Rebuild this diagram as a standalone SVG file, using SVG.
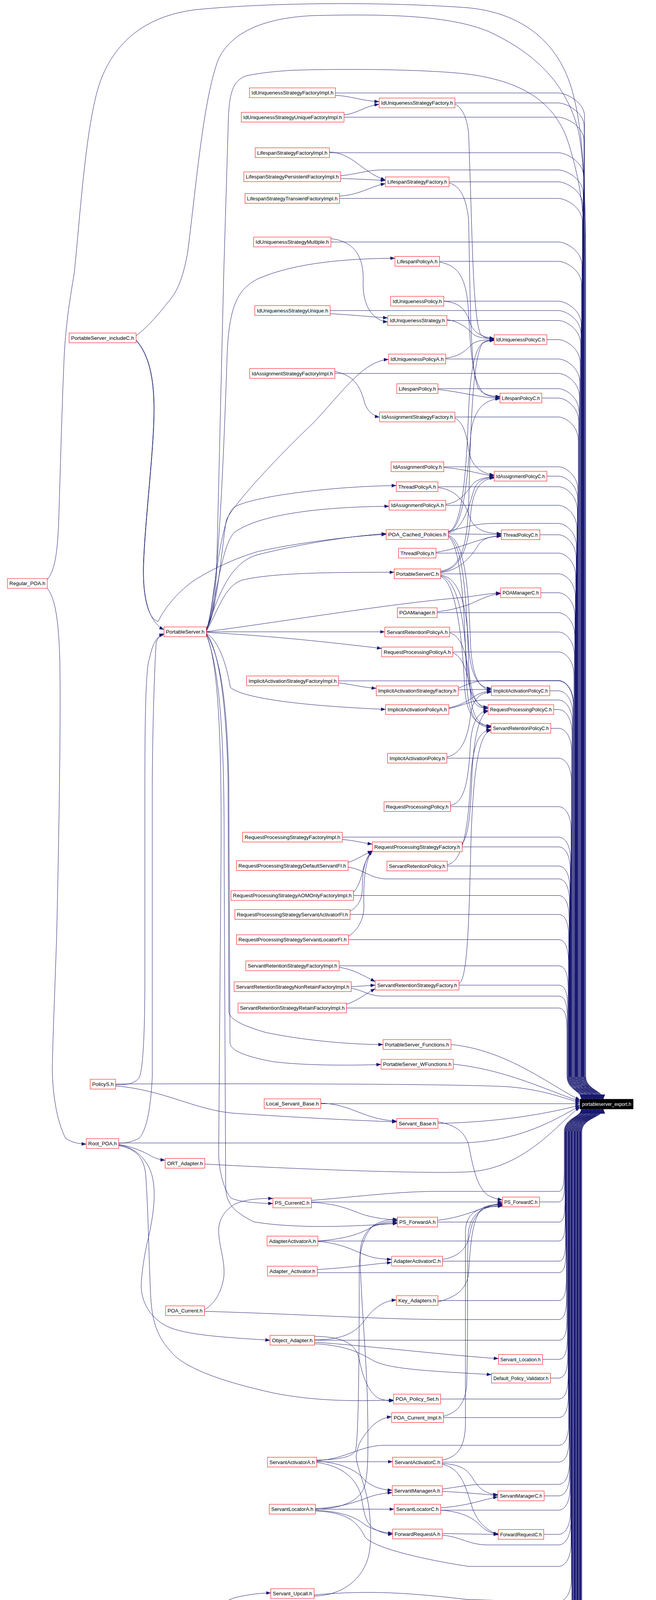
<svg xmlns="http://www.w3.org/2000/svg" width="1680" height="5554" viewBox="0 0 1680 5554">
<defs>
<marker id="ah" viewBox="0 0 12 9" refX="12" refY="4.5" markerWidth="12" markerHeight="9" markerUnits="userSpaceOnUse" orient="auto"><path d="M0,0L12,4.5L0,9z" fill="#191970"/></marker>
<style>
.node rect{fill:#fff;stroke:#ff0000;stroke-width:1}
.node.k rect{stroke:#000}
.node.t rect{fill:#000;stroke:#000}
.node text{font-family:"Liberation Sans",Arial,sans-serif;font-size:12.5px;fill:#000}
.node.t text{fill:#fff}
#edges path{fill:none;stroke:#191970;stroke-width:1;marker-end:url(#ah)}
</style>
</defs>
<rect width="1680" height="5554" fill="#fff"/>
<g id="edges">
<path d="M121,1484 C140,1460 148,1420 151,1313 C156,1150 160,1000 165,900 C170,820 180,760 190,700 C205,560 220,300 260,200 C300,100 380,40 500,25 C700,5 1000,5 1200,20 C1350,35 1440,120 1470,250 C1495,350 1500,500 1500,700 L1500,2755 C1500,2790 1545,2792 1545,2814"/>
<path d="M348.5,860 C380,835 410,800 430,774 C460,740 470,700 480,650 C500,500 520,250 560,150 C600,70 700,45 800,40 C1000,35 1150,40 1250,80 C1380,140 1450,220 1480,330 C1495,400 1499,500 1499,700 L1499,2755 C1499,2790 1544,2792 1544,2814"/>
<path d="M528.5,1606 C545,1590 552,1529 555,1450 L573,700 L585,300 C588,230 600,205 631,194 C680,184 720,182 746,180 C900,175 1100,178 1200,190 C1350,210 1430,270 1460,380 C1490,480 1498,560 1498,700 L1498,2755 C1498,2790 1543,2792 1543,2814"/>
<path d="M859,238 L1430,238 C1448,238 1497,260 1497,298 L1497,2755 C1497,2790 1542,2792 1542,2814"/>
<path d="M1165,263.5 L1430,263.5 C1448,263.5 1496,285.5 1496,323.5 L1496,2755 C1496,2790 1541,2792 1541,2814"/>
<path d="M881,300 L1430,300 C1448,300 1495.5,322 1495.5,360 L1495.5,2755 C1495.5,2790 1540,2792 1540,2814"/>
<path d="M843.5,391 L1430,391 C1448,391 1494.5,413 1494.5,451 L1494.5,2755 C1494.5,2790 1538,2792 1538,2814"/>
<path d="M872.5,450 C920,445 940,435 980,435 L1430,435 C1448,435 1493.5,457 1493.5,495 L1493.5,2755 C1493.5,2790 1537,2792 1537,2814"/>
<path d="M1150,465.5 L1430,465.5 C1448,465.5 1492.5,487.5 1492.5,525.5 L1492.5,2755 C1492.5,2790 1536,2792 1536,2814"/>
<path d="M869.5,508 L1430,508 C1448,508 1491.5,530 1491.5,568 L1491.5,2755 C1491.5,2790 1535,2792 1535,2814"/>
<path d="M847.5,619.5 L1430,619.5 C1448,619.5 1490.5,641.5 1490.5,679.5 L1490.5,2755 C1490.5,2790 1534,2792 1534,2814"/>
<path d="M1125.5,669 L1430,669 C1448,669 1489.5,691 1489.5,729 L1489.5,2755 C1489.5,2790 1533,2792 1533,2814"/>
<path d="M1136.5,771 L1430,771 C1448,771 1488.5,793 1488.5,831 L1488.5,2755 C1488.5,2790 1532,2792 1532,2814"/>
<path d="M845.5,795 L1430,795 C1448,795 1488,817 1488,855 L1488,2755 C1488,2790 1531,2792 1531,2814"/>
<path d="M1144.5,820.5 L1430,820.5 C1448,820.5 1487,842.5 1487,880.5 L1487,2755 C1487,2790 1530,2792 1530,2814"/>
<path d="M1400.5,869.5 L1430,869.5 C1448,869.5 1486,891.5 1486,929.5 L1486,2755 C1486,2790 1529,2792 1529,2814"/>
<path d="M1141.5,919 L1430,919 C1448,919 1485,941 1485,979 L1485,2755 C1485,2790 1527,2792 1527,2814"/>
<path d="M857.5,956 L1430,956 C1448,956 1484,978 1484,1016 L1484,2755 C1484,2790 1526,2792 1526,2814"/>
<path d="M1121.5,995 L1430,995 C1448,995 1483,1017 1483,1055 L1483,2755 C1483,2790 1525,2792 1525,2814"/>
<path d="M1387.5,1019 L1430,1019 C1448,1019 1482,1041 1482,1079 L1482,2755 C1482,2790 1524,2792 1524,2814"/>
<path d="M1165,1067.5 L1430,1067.5 C1448,1067.5 1481,1089.5 1481,1127.5 L1481,2755 C1481,2790 1523,2792 1523,2814"/>
<path d="M1136.5,1195 L1430,1195 C1448,1195 1480,1217 1480,1255 L1480,2755 C1480,2790 1522,2792 1522,2814"/>
<path d="M1400.5,1219 L1430,1219 C1448,1219 1479.5,1241 1479.5,1279 L1479.5,2755 C1479.5,2790 1521,2792 1521,2814"/>
<path d="M1121.5,1246 L1430,1246 C1448,1246 1478.5,1268 1478.5,1306 L1478.5,2755 C1478.5,2790 1520,2792 1520,2814"/>
<path d="M1141.5,1293.5 L1430,1293.5 C1448,1293.5 1477.5,1315.5 1477.5,1353.5 L1477.5,2755 C1477.5,2790 1519,2792 1519,2814"/>
<path d="M1148,1360 C1190,1350 1220,1340 1260,1340 L1430,1340 C1448,1340 1476.5,1362 1476.5,1400 L1476.5,2755 C1476.5,2790 1518,2792 1518,2814"/>
<path d="M1382.5,1369 L1430,1369 C1448,1369 1475.5,1391 1475.5,1429 L1475.5,2755 C1475.5,2790 1516,2792 1516,2814"/>
<path d="M1116.5,1416 L1430,1416 C1448,1416 1474.5,1438 1474.5,1476 L1474.5,2755 C1474.5,2790 1515,2792 1515,2814"/>
<path d="M1128.5,1469 L1430,1469 C1448,1469 1473.5,1491 1473.5,1529 L1473.5,2755 C1473.5,2790 1514,2792 1514,2814"/>
<path d="M1385,1517.5 L1430,1517.5 C1448,1517.5 1472.5,1539.5 1472.5,1577.5 L1472.5,2755 C1472.5,2790 1513,2792 1513,2814"/>
<path d="M1119.5,1568.5 L1430,1568.5 C1448,1568.5 1472,1590.5 1472,1628.5 L1472,2755 C1472,2790 1512,2792 1512,2814"/>
<path d="M1151.5,1618 L1430,1618 C1448,1618 1471,1640 1471,1678 L1471,2755 C1471,2790 1511,2792 1511,2814"/>
<path d="M1159.5,1669 L1430,1669 C1448,1669 1470,1691 1470,1729 L1470,2755 C1470,2790 1510,2792 1510,2814"/>
<path d="M1173.5,1762 C1200,1750 1220,1742 1250,1742 L1430,1742 C1448,1742 1469,1764 1469,1802 L1469,2755 C1469,2790 1509,2792 1509,2814"/>
<path d="M867,1743 L1430,1743 C1448,1743 1468,1765 1468,1803 L1468,2755 C1468,2790 1508,2792 1508,2814"/>
<path d="M1408,1768.5 L1430,1768.5 C1448,1768.5 1467,1790.5 1467,1828.5 L1467,2755 C1467,2790 1506,2792 1506,2814"/>
<path d="M1149.5,1814 C1190,1805 1210,1792 1240,1792 L1430,1792 C1448,1792 1466,1814 1466,1852 L1466,2755 C1466,2790 1505,2792 1505,2814"/>
<path d="M1418,1816.5 L1430,1816.5 C1448,1816.5 1465,1838.5 1465,1876.5 L1465,2755 C1465,2790 1504,2792 1504,2814"/>
<path d="M1410.5,1864.5 L1430,1864.5 C1448,1864.5 1464,1886.5 1464,1924.5 L1464,2755 C1464,2790 1503,2792 1503,2814"/>
<path d="M1144.5,1941 L1430,1941 C1448,1941 1463.5,1963 1463.5,2001 L1463.5,2755 C1463.5,2790 1502,2792 1502,2814"/>
<path d="M1153.5,2065 L1430,2065 C1448,2065 1462.5,2087 1462.5,2125 L1462.5,2755 C1462.5,2790 1501,2792 1501,2814"/>
<path d="M876.5,2143 L1430,2143 C1448,2143 1461.5,2165 1461.5,2203 L1461.5,2755 C1461.5,2790 1500,2792 1500,2814"/>
<path d="M1183.5,2168 L1430,2168 C1448,2168 1460.5,2190 1460.5,2228 L1460.5,2755 C1460.5,2790 1499,2792 1499,2814"/>
<path d="M1145.5,2217 L1430,2217 C1448,2217 1459.5,2239 1459.5,2277 L1459.5,2755 C1459.5,2790 1498,2792 1498,2814"/>
<path d="M891.5,2220 C930,2225 950,2250 990,2250 L1430,2250 C1448,2250 1458.5,2272 1458.5,2310 L1458.5,2755 C1458.5,2790 1497,2792 1497,2814"/>
<path d="M905.5,2292.5 L1430,2292.5 C1448,2292.5 1457.5,2314.5 1457.5,2352.5 L1457.5,2755 C1457.5,2790 1495,2792 1495,2814"/>
<path d="M896.5,2341 L1430,2341 C1448,2341 1456.5,2363 1456.5,2401 L1456.5,2755 C1456.5,2790 1494,2792 1494,2814"/>
<path d="M892.5,2405.5 L1430,2405.5 C1448,2405.5 1456,2427.5 1456,2465.5 L1456,2755 C1456,2790 1493,2792 1493,2814"/>
<path d="M868.5,2472.5 L1430,2472.5 C1448,2472.5 1455,2494.5 1455,2532.5 L1455,2755 C1455,2790 1492,2792 1492,2814"/>
<path d="M1175.5,2522 L1430,2522 C1448,2522 1454,2544 1454,2582 L1454,2755 C1454,2790 1491,2792 1491,2814"/>
<path d="M899.5,2530 C930,2535 945,2550 980,2550 L1430,2550 C1448,2550 1453,2572 1453,2610 L1453,2755 C1453,2790 1490,2792 1490,2814"/>
<path d="M887.5,2580.5 L1430,2580.5 C1448,2580.5 1452,2602.5 1452,2640.5 L1452,2755 C1452,2790 1489,2792 1489,2814"/>
<path d="M1155,2674 C1300,2688 1410,2780 1485.5,2816"/>
<path d="M1161,2724.5 C1300,2738 1420,2800 1485.5,2819"/>
<path d="M296,2775 C600,2774 1150,2774 1300,2782 C1400,2790 1450,2815 1485.5,2822"/>
<path d="M821.5,2825.5 L1485.5,2825.5"/>
<path d="M1121.5,2876 C1300,2872 1420,2846 1485.5,2829"/>
<path d="M304,2926 L1180,2926 C1350,2922 1440,2852 1485.5,2832"/>
<path d="M524.5,2980 C800,2995 1100,3005 1200,3000 C1350,2992 1440,2862 1485.5,2835"/>
<path d="M1433.5,5536 L1436,5536 C1454,5536 1490,5514 1490,5476 L1490,2897 C1490,2862 1545,2860 1545,2839"/>
<path d="M1401.5,5488.5 L1430,5488.5 C1448,5488.5 1489,5466.5 1489,5428.5 L1489,2897 C1489,2862 1544,2860 1544,2839"/>
<path d="M1416.5,5440.5 L1430,5440.5 C1448,5440.5 1488,5418.5 1488,5380.5 L1488,2897 C1488,2862 1543,2860 1543,2839"/>
<path d="M1416.5,5392.5 L1430,5392.5 C1448,5392.5 1487.5,5370.5 1487.5,5332.5 L1487.5,2897 C1487.5,2862 1542,2860 1542,2839"/>
<path d="M1407,5344.5 L1430,5344.5 C1448,5344.5 1486.5,5322.5 1486.5,5284.5 L1486.5,2897 C1486.5,2862 1541,2860 1541,2839"/>
<path d="M1420,5296.5 L1430,5296.5 C1448,5296.5 1485.5,5274.5 1485.5,5236.5 L1485.5,2897 C1485.5,2862 1540,2860 1540,2839"/>
<path d="M1387,5248.5 L1430,5248.5 C1448,5248.5 1484.5,5226.5 1484.5,5188.5 L1484.5,2897 C1484.5,2862 1538,2860 1538,2839"/>
<path d="M1392.5,5200.5 L1430,5200.5 C1448,5200.5 1484,5178.5 1484,5140.5 L1484,2897 C1484,2862 1537,2860 1537,2839"/>
<path d="M1403.5,5152.5 L1430,5152.5 C1448,5152.5 1483,5130.5 1483,5092.5 L1483,2897 C1483,2862 1536,2860 1536,2839"/>
<path d="M1404.5,5104.5 L1430,5104.5 C1448,5104.5 1482,5082.5 1482,5044.5 L1482,2897 C1482,2862 1535,2860 1535,2839"/>
<path d="M1172.5,5053 L1430,5053 C1448,5053 1481,5031 1481,4993 L1481,2897 C1481,2862 1534,2860 1534,2839"/>
<path d="M1176,5004.5 L1430,5004.5 C1448,5004.5 1480.5,4982.5 1480.5,4944.5 L1480.5,2897 C1480.5,2862 1533,2860 1533,2839"/>
<path d="M1388.5,4954.5 L1430,4954.5 C1448,4954.5 1479.5,4932.5 1479.5,4894.5 L1479.5,2897 C1479.5,2862 1532,2860 1532,2839"/>
<path d="M1177,4938 C1210,4930 1230,4905 1260,4905 L1430,4905 C1448,4905 1478.5,4883 1478.5,4845 L1478.5,2897 C1478.5,2862 1531,2860 1531,2839"/>
<path d="M1176.5,4868.5 L1430,4868.5 C1448,4868.5 1477.5,4846.5 1477.5,4808.5 L1477.5,2897 C1477.5,2862 1530,2860 1530,2839"/>
<path d="M1410.5,4805.5 L1430,4805.5 C1448,4805.5 1477,4783.5 1477,4745.5 L1477,2897 C1477,2862 1529,2860 1529,2839"/>
<path d="M1376,4757.5 L1430,4757.5 C1448,4757.5 1476,4735.5 1476,4697.5 L1476,2897 C1476,2862 1527,2860 1527,2839"/>
<path d="M1399.5,4709.5 L1430,4709.5 C1448,4709.5 1475,4687.5 1475,4649.5 L1475,2897 C1475,2862 1526,2860 1526,2839"/>
<path d="M1397,4661.5 L1430,4661.5 C1448,4661.5 1474,4639.5 1474,4601.5 L1474,2897 C1474,2862 1525,2860 1525,2839"/>
<path d="M1429,4613.5 L1431,4613.5 C1449,4613.5 1473.5,4591.5 1473.5,4553.5 L1473.5,2897 C1473.5,2862 1524,2860 1524,2839"/>
<path d="M1430,4565.5 L1432,4565.5 C1450,4565.5 1472.5,4543.5 1472.5,4505.5 L1472.5,2897 C1472.5,2862 1523,2860 1523,2839"/>
<path d="M1415.5,4517.5 L1430,4517.5 C1448,4517.5 1471.5,4495.5 1471.5,4457.5 L1471.5,2897 C1471.5,2862 1522,2860 1522,2839"/>
<path d="M1422.5,4469.5 L1430,4469.5 C1448,4469.5 1470.5,4447.5 1470.5,4409.5 L1470.5,2897 C1470.5,2862 1521,2860 1521,2839"/>
<path d="M1440,4421.5 L1442,4421.5 C1458,4421.5 1470,4399.5 1470,4361.5 L1470,2897 C1470,2862 1520,2860 1520,2839"/>
<path d="M1407,4373.5 L1430,4373.5 C1448,4373.5 1469,4351.5 1469,4313.5 L1469,2897 C1469,2862 1519,2860 1519,2839"/>
<path d="M1434,4325.5 L1436,4325.5 C1452,4325.5 1468,4303.5 1468,4265.5 L1468,2897 C1468,2862 1518,2860 1518,2839"/>
<path d="M1396,4277.5 L1430,4277.5 C1448,4277.5 1467,4255.5 1467,4217.5 L1467,2897 C1467,2862 1516,2860 1516,2839"/>
<path d="M1389.5,4229.5 L1430,4229.5 C1448,4229.5 1466,4207.5 1466,4169.5 L1466,2897 C1466,2862 1515,2860 1515,2839"/>
<path d="M356.5,4158 C600,4175 900,4180 1100,4180 L1430,4180 C1448,4180 1465.5,4158 1465.5,4120 L1465.5,2897 C1465.5,2862 1514,2860 1514,2839"/>
<path d="M543.5,4129 C800,4135 1100,4150 1200,4148 L1430,4148 C1448,4148 1464.5,4126 1464.5,4088 L1464.5,2897 C1464.5,2862 1513,2860 1513,2839"/>
<path d="M804.5,4083 C950,4070 1050,4078 1200,4095 L1430,4100 C1448,4100 1463.5,4078 1463.5,4040 L1463.5,2897 C1463.5,2862 1512,2860 1512,2839"/>
<path d="M807.5,3868 C890,3872 915,3895 935,3935 C960,3965 1100,3995 1200,4010 L1430,4010 C1448,4010 1462.5,3988 1462.5,3950 L1462.5,2897 C1462.5,2862 1511,2860 1511,2839"/>
<path d="M1132.5,3930 C1180,3934 1200,3955 1250,3955 L1430,3955 C1448,3955 1462,3933 1462,3895 L1462,2897 C1462,2862 1510,2860 1510,2839"/>
<path d="M1392.5,3928 L1430,3928 C1448,3928 1461,3906 1461,3868 L1461,2897 C1461,2862 1509,2860 1509,2839"/>
<path d="M1128.5,3866 L1430,3866 C1448,3866 1460,3844 1460,3806 L1460,2897 C1460,2862 1508,2860 1508,2839"/>
<path d="M1393.5,3829.5 L1430,3829.5 C1448,3829.5 1459,3807.5 1459,3769.5 L1459,2897 C1459,2862 1506,2860 1506,2839"/>
<path d="M1132.5,3812 C1180,3806 1200,3800 1240,3800 L1430,3800 C1448,3800 1458.5,3778 1458.5,3740 L1458.5,2897 C1458.5,2862 1505,2860 1505,2839"/>
<path d="M1132.5,3743 L1430,3743 C1448,3743 1457.5,3721 1457.5,3683 L1457.5,2897 C1457.5,2862 1504,2860 1504,2839"/>
<path d="M811,3739 C880,3737 920,3702 980,3700 L1430,3700 C1448,3700 1456.5,3678 1456.5,3640 L1456.5,2897 C1456.5,2862 1503,2860 1503,2839"/>
<path d="M1135.5,3629 L1430,3629 C1448,3629 1455.5,3607 1455.5,3569 L1455.5,2897 C1455.5,2862 1502,2860 1502,2839"/>
<path d="M1128.5,3581.5 L1430,3581.5 C1448,3581.5 1455,3559.5 1455,3521.5 L1455,2897 C1455,2862 1501,2860 1501,2839"/>
<path d="M1409.5,3528 L1430,3528 C1448,3528 1454,3506 1454,3468 L1454,2897 C1454,2862 1500,2860 1500,2839"/>
<path d="M1389.5,3480 L1430,3480 C1448,3480 1453,3458 1453,3420 L1453,2897 C1453,2862 1499,2860 1499,2839"/>
<path d="M805.5,3431 L1430,3431 C1448,3431 1452,3409 1452,3371 L1452,2897 C1452,2862 1498,2860 1498,2839"/>
<path d="M523.5,3357 C800,3365 1000,3380 1200,3378 L1430,3378 C1446,3378 1451,3356 1451,3318 L1451,2897 C1451,2862 1497,2860 1497,2839"/>
<path d="M1121.5,3329.5 L1430,3329.5 C1446,3329.5 1450.5,3307.5 1450.5,3269.5 L1450.5,2897 C1450.5,2862 1495,2860 1495,2839"/>
<path d="M812.5,3258 L1430,3258 C1446,3258 1449.5,3236 1449.5,3198 L1449.5,2897 C1449.5,2862 1494,2860 1494,2839"/>
<path d="M1133.5,3228.5 L1430,3228.5 C1446,3228.5 1448.5,3206.5 1448.5,3168.5 L1448.5,2897 C1448.5,2862 1493,2860 1493,2839"/>
<path d="M814,3177 L1430,3177 C1445,3177 1447.5,3155 1447.5,3117 L1447.5,2897 C1447.5,2862 1492,2860 1492,2839"/>
<path d="M1120.5,3128.5 L1430,3128.5 C1445,3128.5 1447,3106.5 1447,3068.5 L1447,2897 C1447,2862 1491,2860 1491,2839"/>
<path d="M1381.5,3077 L1430,3077 C1444,3077 1446,3055 1446,3017 L1446,2897 C1446,2862 1490,2860 1490,2839"/>
<path d="M797.5,3073 C900,3065 1000,3052 1100,3050 L1430,3050 C1443,3050 1445,3028 1445,2990 L1445,2897 C1445,2862 1489,2860 1489,2839"/>
<path d="M859,244 C900,246 930,259 971,260"/>
<path d="M881,294 C915,291 935,271 971,267"/>
<path d="M843.5,389 C905,392 925,440 987,461"/>
<path d="M872.5,457 C910,458 950,460 987,462"/>
<path d="M869.5,502 C925,498 945,478 987,470"/>
<path d="M847.5,611 C910,618 932,660 930,720 C928,790 960,822 993,824"/>
<path d="M845.5,803 C900,806 950,811 993,814"/>
<path d="M857.5,951 C915,962 925,1000 935,1035 C945,1058 960,1066 972,1068"/>
<path d="M867,1748 C900,1752 930,1760 963.5,1762"/>
<path d="M876.5,2149 C910,2152 930,2158 953.5,2161"/>
<path d="M891.5,2208 C915,2200 935,2186 953.5,2178"/>
<path d="M905.5,2284 C922,2265 926,2240 930,2225 C935,2205 945,2188 953.5,2178"/>
<path d="M896.5,2333 C920,2318 928,2300 928,2270 C928,2230 935,2195 953.5,2178"/>
<path d="M892.5,2397 C920,2378 932,2350 932,2320 C930,2260 935,2200 953.5,2178"/>
<path d="M868.5,2476 C905,2482 930,2497 961,2513"/>
<path d="M899.5,2526 L961,2522"/>
<path d="M887.5,2571 C915,2562 935,2545 961,2531"/>
<path d="M528.5,1610 C560,1560 575,1100 582,900 C588,780 610,740 660,714 C760,670 900,662 1011.5,661"/>
<path d="M528.5,1612 C555,1580 570,1380 580,1330 C600,1290 700,1180 805,1080 C880,1000 930,925 995,920"/>
<path d="M528.5,1613 C548,1560 560,1330 600,1298 C650,1270 850,1245 1015,1243"/>
<path d="M528.5,1614 C555,1540 565,1400 600,1363 C660,1320 800,1298 996.5,1296"/>
<path d="M528.5,1615 C560,1520 590,1440 660,1420 C780,1390 900,1372 989,1366"/>
<path d="M528.5,1616 C560,1560 575,1500 620,1485 C700,1466 850,1465 1009.5,1465"/>
<path d="M528.5,1617 C700,1595 1000,1545 1180,1530 C1220,1526 1250,1519 1282,1518"/>
<path d="M528.5,1617.5 L985.5,1617.5"/>
<path d="M528.5,1619 C700,1628 850,1645 977.5,1660"/>
<path d="M528.5,1621 C560,1640 580,1700 590,1760 C620,1785 750,1806 987.5,1816"/>
<path d="M528.5,1622 C560,1660 580,1800 584,2000 L586,2590 C588,2610 620,2625 680,2643 C760,2660 880,2674 981,2674"/>
<path d="M528.5,1623 C565,1680 582,1800 586,2000 L589,2670 C591,2690 630,2705 700,2718 C780,2728 900,2728 976,2725"/>
<path d="M528.5,1624 C560,1700 568,1900 566,2200 L560,2950 C560,3000 575,3050 592,3067 C610,3076 650,3080 699,3081"/>
<path d="M528.5,1625 C565,1720 575,1900 574,2200 L578,3040 C580,3080 595,3100 650,3128 C760,3146 900,3140 1017.5,3132"/>
<path d="M348.5,870 C375,900 395,950 395,1048 C395,1150 372,1330 368,1446 C365,1540 385,1595 420,1612"/>
<path d="M348.5,872 C375,902 394,952 394,1048 C394,1150 371,1330 367,1446 C365,1530 380,1585 405,1591 C420,1560 450,1520 494,1488 C540,1458 600,1430 660,1412 C760,1390 900,1372 989,1368"/>
<path d="M121,1506 C140,1530 150,1580 153,1687 C156,1800 152,2100 145,2400 C138,2600 134,2700 134,2741 C135,2800 145,2870 168,2914 C185,2925 200,2928 221,2929"/>
<path d="M296,2777 C330,2778 345,2772 356,2760 C366,2740 371,2650 371,2500 L371,2000 C371,1800 375,1700 383,1686 C390,1650 400,1630 420,1622"/>
<path d="M304,2927 C330,2926 345,2920 356,2914 C370,2900 385,2860 390,2756 L390,2000 C391,1850 396,1700 400,1645 C405,1630 412,1626 420,1625"/>
<path d="M304,2930 C340,2935 370,2950 383,2957 C395,2965 410,2969 423,2970"/>
<path d="M304,2931 C340,2936 370,2960 385,2996 C398,3030 400,3080 380,3169 C365,3230 360,3290 362,3300 C365,3340 390,3380 436,3399 C490,3420 600,3425 691.5,3431"/>
<path d="M304,2933 C345,2940 368,2960 373,3006 C380,3100 382,3250 386,3320 C390,3390 405,3430 452,3475 C490,3505 560,3535 700,3566 C800,3586 900,3588 1008,3584"/>
<path d="M296,2780 C420,2790 500,2842 600,2850 C750,2860 900,2868 1016,2872"/>
<path d="M821.5,2824 C900,2826 930,2866 1016,2870"/>
<path d="M523.5,3353 C545,3340 565,3317 573,3271 C578,3230 560,3190 560,3149 C561,3120 575,3100 600,3083 C630,3070 660,3068 699,3068"/>
<path d="M797.5,3078 C880,3082 910,3105 940,3112 C970,3120 1000,3122 1017.5,3124"/>
<path d="M797.5,3077 L1286.5,3077"/>
<path d="M814,3177 C880,3172 920,3160 945,3145 C970,3130 995,3126 1017.5,3126"/>
<path d="M814,3178 C890,3184 920,3212 960,3220 C980,3223 995,3224 1003,3224"/>
<path d="M812.5,3250 C900,3245 950,3236 1003,3232"/>
<path d="M805.5,3430 C880,3430 910,3410 930,3385 C955,3350 980,3330 1015,3328"/>
<path d="M805.5,3421 C880,3422 912,3440 920,3480 C930,3530 945,3565 970,3580 C985,3585 995,3586 1008,3586"/>
<path d="M805.5,3436 C950,3446 1150,3470 1276.5,3478"/>
<path d="M805.5,3440 C900,3445 930,3470 960,3485 C1000,3505 1100,3510 1258.5,3519"/>
<path d="M811,3742 L1005.5,3742"/>
<path d="M811,3740 C880,3746 915,3765 935,3790 C955,3808 980,3814 1004.5,3815"/>
<path d="M811,3738 C880,3736 900,3728 910,3715 C918,3690 920,3500 920,3242 C922,3200 930,3165 955,3138 C975,3125 1000,3121 1017.5,3121"/>
<path d="M807.5,3864 C880,3862 920,3840 932,3809 C942,3780 944,3740 941,3586 C938,3470 924,3320 922,3213 C922,3180 935,3150 955,3140 C975,3132 1000,3130 1017.5,3130"/>
<path d="M807.5,3863.5 L1009.5,3863.5"/>
<path d="M807.5,3862 C880,3858 910,3845 936,3836 C960,3826 985,3822 1004.5,3821"/>
<path d="M811,3744 C880,3752 915,3790 925,3830 C932,3870 935,3900 960,3915 C980,3925 995,3928 1005.5,3928"/>
<path d="M807.5,3866 C880,3870 910,3885 930,3900 C950,3915 980,3924 1005.5,3925"/>
<path d="M804.5,4086 C880,4084 930,4040 944,3983 C952,3950 950,3900 944,3854 C935,3800 915,3760 912,3730 C915,3700 925,3680 956,3648 C975,3632 990,3628 1003,3627"/>
<path d="M543.5,4119 C570,4105 590,4090 620,4086 C650,4080 675,4078 693.5,4078"/>
<path d="M356.5,4145 L405,4138"/>
<path d="M1128.5,3860 C1200,3855 1240,3838 1275,3832"/>
<path d="M1132.5,3818 C1200,3821 1240,3826 1275,3828"/>
<path d="M1132.5,3746 C1180,3750 1195,3760 1211,3785 C1225,3810 1245,3826 1275,3826"/>
<path d="M1132.5,3926 L1276,3928"/>
<path d="M1128.5,3866 C1190,3870 1215,3890 1230,3905 C1245,3920 1260,3926 1276,3926"/>
<path d="M1132.5,3748 C1180,3760 1190,3800 1205,3845 C1215,3880 1230,3910 1276,3930"/>
<path d="M1120.5,3124 C1200,3115 1240,3085 1286.5,3080"/>
<path d="M1121.5,2872 C1170,2880 1190,2900 1200,2930 C1210,2980 1220,3040 1250,3060 C1265,3068 1275,3070 1286.5,3072"/>
<path d="M1133.5,3224 C1190,3215 1200,3180 1205,3150 C1215,3100 1245,3085 1286.5,3082"/>
<path d="M1121.5,3333 C1170,3320 1195,3300 1200,3260 C1205,3180 1210,3110 1240,3090 C1255,3084 1270,3084 1286.5,3084"/>
<path d="M1135.5,3626 C1175,3615 1190,3590 1195,3550 C1200,3400 1195,3200 1200,3150 C1210,3100 1240,3088 1286.5,3086"/>
<path d="M1132.5,3738 C1175,3730 1190,3700 1192,3650 L1192,3150 C1195,3100 1230,3088 1286.5,3088"/>
<path d="M1165,266 C1185,278 1195,300 1200,340 C1210,600 1210,800 1230,855 C1240,866 1255,868 1265.5,868"/>
<path d="M1136.5,771 C1185,775 1195,800 1205,830 C1215,855 1240,864 1265.5,866"/>
<path d="M1141.5,917 C1180,912 1195,895 1210,880 C1225,870 1245,870 1265.5,870"/>
<path d="M1144.5,818 C1185,825 1200,845 1215,858 C1230,866 1250,867 1265.5,867"/>
<path d="M1150,468 C1185,478 1195,520 1200,560 C1205,800 1205,950 1225,995 C1240,1012 1260,1015 1280.5,1015"/>
<path d="M1125.5,671 C1180,680 1195,720 1200,800 C1205,900 1210,980 1240,1008 C1255,1016 1268,1017 1280.5,1017"/>
<path d="M1121.5,997 C1180,1003 1230,1018 1280.5,1020"/>
<path d="M1165,1070 C1185,1080 1195,1110 1200,1150 C1205,1190 1230,1212 1265.5,1216"/>
<path d="M1136.5,1197 C1190,1200 1230,1215 1265.5,1218"/>
<path d="M1141.5,1291 C1185,1285 1200,1250 1215,1235 C1230,1224 1250,1221 1265.5,1221"/>
<path d="M1121.5,1248 C1180,1255 1195,1300 1205,1330 C1220,1360 1250,1366 1284,1366"/>
<path d="M1116.5,1414 C1180,1405 1230,1375 1284,1371"/>
<path d="M1148,1362 C1185,1350 1195,1200 1200,1050 C1205,950 1215,890 1240,875 C1250,871 1258,871 1265.5,871"/>
<path d="M1148,1363 C1185,1350 1195,1250 1205,1120 C1210,1050 1240,1022 1280.5,1021"/>
<path d="M1148,1365 C1190,1355 1205,1280 1215,1250 C1225,1228 1245,1223 1265.5,1222"/>
<path d="M1148,1367 C1200,1367 1240,1368 1284,1368"/>
<path d="M1148,1370 C1190,1385 1200,1500 1205,1650 C1210,1740 1230,1765 1258.5,1766"/>
<path d="M1148,1372 C1185,1390 1195,1520 1200,1700 C1205,1790 1225,1812 1250,1814"/>
<path d="M1148,1374 C1180,1395 1190,1550 1195,1750 C1200,1840 1225,1862 1257.5,1862"/>
<path d="M1128.5,1462 C1180,1455 1195,1400 1200,1300 C1205,1100 1210,920 1235,880 C1245,872 1255,872 1265.5,872"/>
<path d="M1128.5,1464 C1180,1458 1200,1400 1205,1320 C1210,1250 1235,1224 1265.5,1224"/>
<path d="M1128.5,1466 C1180,1460 1210,1420 1225,1395 C1240,1375 1260,1373 1284,1373"/>
<path d="M1128.5,1472 C1180,1480 1195,1560 1200,1650 C1205,1740 1230,1762 1258.5,1762"/>
<path d="M1128.5,1474 C1175,1485 1190,1600 1195,1700 C1200,1790 1225,1810 1250,1810"/>
<path d="M1128.5,1476 C1170,1490 1185,1650 1190,1760 C1195,1840 1225,1858 1257.5,1858"/>
<path d="M1119.5,1566 C1160,1562 1185,1552 1200,1548 C1230,1535 1255,1521 1282,1520"/>
<path d="M1151.5,1620 C1190,1630 1200,1700 1205,1780 C1210,1840 1230,1858 1257.5,1860"/>
<path d="M1159.5,1671 C1195,1685 1200,1750 1210,1790 C1220,1810 1235,1813 1250,1813"/>
<path d="M1173.5,1766 C1210,1765 1235,1765 1258.5,1765"/>
<path d="M1149.5,1812 C1190,1805 1215,1780 1230,1775 C1240,1771 1250,1770 1258.5,1770"/>
<path d="M1144.5,1938 C1185,1930 1200,1880 1205,1830 C1210,1790 1230,1772 1258.5,1772"/>
<path d="M1153.5,2062 C1190,2055 1200,2000 1205,1900 C1210,1840 1230,1820 1250,1819"/>
<path d="M1183.5,2160 C1200,2140 1205,2080 1208,2000 C1212,1880 1230,1825 1250,1821"/>
<path d="M1145.5,2214 C1190,2205 1200,2100 1205,2000 C1210,1900 1230,1870 1257.5,1868"/>
<path d="M1175.5,2519 C1195,2505 1200,2400 1205,2200 C1210,1950 1230,1875 1257.5,1870"/>
<path d="M1176.5,4870 C1200,4875 1210,4900 1225,4925 C1240,4945 1260,4951 1279.5,4951"/>
<path d="M1177,4943 C1210,4945 1250,4952 1279.5,4953"/>
<path d="M1176,5002 C1210,4995 1230,4970 1245,4962 C1255,4957 1265,4956 1279.5,4956"/>
<path d="M1172.5,5051 C1200,5040 1215,5000 1230,4975 C1245,4962 1260,4958 1279.5,4958"/>
</g>
<g id="nodes">
<g id="n1" class="node"><rect x="639" y="225" width="220" height="25"/><text x="644" y="242" textLength="210" lengthAdjust="spacingAndGlyphs">IdUniquenessStrategyFactoryImpl.h</text></g>
<g id="n2" class="node"><rect x="618" y="287.5" width="263" height="25"/><text x="623" y="304.5" textLength="253" lengthAdjust="spacingAndGlyphs">IdUniquenessStrategyUniqueFactoryImpl.h</text></g>
<g id="n3" class="node"><rect x="653.5" y="378.5" width="190" height="25"/><text x="658.5" y="395.5" textLength="180" lengthAdjust="spacingAndGlyphs">LifespanStrategyFactoryImpl.h</text></g>
<g id="n4" class="node"><rect x="624.5" y="440" width="248" height="25"/><text x="629.5" y="457" textLength="238" lengthAdjust="spacingAndGlyphs">LifespanStrategyPersistentFactoryImpl.h</text></g>
<g id="n5" class="node"><rect x="627.5" y="495.5" width="242" height="25"/><text x="632.5" y="512.5" textLength="232" lengthAdjust="spacingAndGlyphs">LifespanStrategyTransientFactoryImpl.h</text></g>
<g id="n6" class="node"><rect x="649.5" y="607" width="198" height="25"/><text x="654.5" y="624" textLength="188" lengthAdjust="spacingAndGlyphs">IdUniquenessStrategyMultiple.h</text></g>
<g id="n7" class="node"><rect x="652.5" y="782.5" width="193" height="25"/><text x="657.5" y="799.5" textLength="183" lengthAdjust="spacingAndGlyphs">IdUniquenessStrategyUnique.h</text></g>
<g id="n8" class="node"><rect x="639.5" y="943.5" width="218" height="25"/><text x="644.5" y="960.5" textLength="208" lengthAdjust="spacingAndGlyphs">IdAssignmentStrategyFactoryImpl.h</text></g>
<g id="n9" class="node"><rect x="631.5" y="1730.5" width="235.5" height="25"/><text x="636.5" y="1747.5" textLength="225.5" lengthAdjust="spacingAndGlyphs">ImplicitActivationStrategyFactoryImpl.h</text></g>
<g id="n10" class="node"><rect x="621.5" y="2130.5" width="255" height="25"/><text x="626.5" y="2147.5" textLength="245" lengthAdjust="spacingAndGlyphs">RequestProcessingStrategyFactoryImpl.h</text></g>
<g id="n11" class="node"><rect x="605.5" y="2203.5" width="286" height="25"/><text x="610.5" y="2220.5" textLength="276" lengthAdjust="spacingAndGlyphs">RequestProcessingStrategyDefaultServantFI.h</text></g>
<g id="n12" class="node"><rect x="591.5" y="2280" width="314" height="25"/><text x="596.5" y="2297" textLength="304" lengthAdjust="spacingAndGlyphs">RequestProcessingStrategyAOMOnlyFactoryImpl.h</text></g>
<g id="n13" class="node"><rect x="601.5" y="2328.5" width="295" height="25"/><text x="606.5" y="2345.5" textLength="285" lengthAdjust="spacingAndGlyphs">RequestProcessingStrategyServantActivatorFI.h</text></g>
<g id="n14" class="node"><rect x="605.5" y="2393" width="287" height="25"/><text x="610.5" y="2410" textLength="277" lengthAdjust="spacingAndGlyphs">RequestProcessingStrategyServantLocatorFI.h</text></g>
<g id="n15" class="node"><rect x="629.5" y="2460" width="239" height="25"/><text x="634.5" y="2477" textLength="229" lengthAdjust="spacingAndGlyphs">ServantRetentionStrategyFactoryImpl.h</text></g>
<g id="n16" class="node"><rect x="599.5" y="2513.5" width="300" height="25"/><text x="604.5" y="2530.5" textLength="290" lengthAdjust="spacingAndGlyphs">ServantRetentionStrategyNonRetainFactoryImpl.h</text></g>
<g id="n17" class="node"><rect x="609.5" y="2568" width="278" height="25"/><text x="614.5" y="2585" textLength="268" lengthAdjust="spacingAndGlyphs">ServantRetentionStrategyRetainFactoryImpl.h</text></g>
<g id="n18" class="node"><rect x="676.5" y="2813" width="145" height="25"/><text x="681.5" y="2830" textLength="135" lengthAdjust="spacingAndGlyphs">Local_Servant_Base.h</text></g>
<g id="n19" class="node"><rect x="699" y="3067" width="98.5" height="25"/><text x="704" y="3084" textLength="88.5" lengthAdjust="spacingAndGlyphs">PS_CurrentC.h</text></g>
<g id="n20" class="node"><rect x="684" y="3164.5" width="130" height="25"/><text x="689" y="3181.5" textLength="120" lengthAdjust="spacingAndGlyphs">AdapterActivatorA.h</text></g>
<g id="n21" class="node"><rect x="685" y="3241.5" width="127.5" height="25"/><text x="690" y="3258.5" textLength="117.5" lengthAdjust="spacingAndGlyphs">Adapter_Activator.h</text></g>
<g id="n22" class="node"><rect x="691.5" y="3418.5" width="114" height="25"/><text x="696.5" y="3435.5" textLength="104" lengthAdjust="spacingAndGlyphs">Object_Adapter.h</text></g>
<g id="n23" class="node"><rect x="685" y="3730.5" width="126" height="25"/><text x="690" y="3747.5" textLength="116" lengthAdjust="spacingAndGlyphs">ServantActivatorA.h</text></g>
<g id="n24" class="node"><rect x="689.5" y="3851" width="118" height="25"/><text x="694.5" y="3868" textLength="108" lengthAdjust="spacingAndGlyphs">ServantLocatorA.h</text></g>
<g id="n25" class="node"><rect x="693.5" y="4067" width="111" height="25"/><text x="698.5" y="4084" textLength="101" lengthAdjust="spacingAndGlyphs">Servant_Upcall.h</text></g>
<g id="n26" class="node"><rect x="971" y="251" width="194" height="25"/><text x="976" y="268" textLength="184" lengthAdjust="spacingAndGlyphs">IdUniquenessStrategyFactory.h</text></g>
<g id="n27" class="node"><rect x="987" y="453" width="163" height="25"/><text x="992" y="470" textLength="153" lengthAdjust="spacingAndGlyphs">LifespanStrategyFactory.h</text></g>
<g id="n28" class="node"><rect x="1011.5" y="656.5" width="114" height="25"/><text x="1016.5" y="673.5" textLength="104" lengthAdjust="spacingAndGlyphs">LifespanPolicyA.h</text></g>
<g id="n29" class="node"><rect x="1000.5" y="758.5" width="136" height="25"/><text x="1005.5" y="775.5" textLength="126" lengthAdjust="spacingAndGlyphs">IdUniquenessPolicy.h</text></g>
<g id="n30" class="node"><rect x="993" y="808" width="151.5" height="25"/><text x="998" y="825" textLength="141.5" lengthAdjust="spacingAndGlyphs">IdUniquenessStrategy.h</text></g>
<g id="n31" class="node"><rect x="995" y="906.5" width="146.5" height="25"/><text x="1000" y="923.5" textLength="136.5" lengthAdjust="spacingAndGlyphs">IdUniquenessPolicyA.h</text></g>
<g id="n32" class="node"><rect x="1016" y="982.5" width="105.5" height="25"/><text x="1021" y="999.5" textLength="95.5" lengthAdjust="spacingAndGlyphs">LifespanPolicy.h</text></g>
<g id="n33" class="node"><rect x="972" y="1055" width="193" height="25"/><text x="977" y="1072" textLength="183" lengthAdjust="spacingAndGlyphs">IdAssignmentStrategyFactory.h</text></g>
<g id="n34" class="node"><rect x="1001.5" y="1182.5" width="135" height="25"/><text x="1006.5" y="1199.5" textLength="125" lengthAdjust="spacingAndGlyphs">IdAssignmentPolicy.h</text></g>
<g id="n35" class="node"><rect x="1015" y="1233.5" width="106.5" height="25"/><text x="1020" y="1250.5" textLength="96.5" lengthAdjust="spacingAndGlyphs">ThreadPolicyA.h</text></g>
<g id="n36" class="node"><rect x="996.5" y="1281" width="145" height="25"/><text x="1001.5" y="1298" textLength="135" lengthAdjust="spacingAndGlyphs">IdAssignmentPolicyA.h</text></g>
<g id="n37" class="node"><rect x="989" y="1356" width="159" height="25"/><text x="994" y="1373" textLength="149" lengthAdjust="spacingAndGlyphs">POA_Cached_Policies.h</text></g>
<g id="n38" class="node"><rect x="1020.5" y="1403.5" width="96" height="25"/><text x="1025.5" y="1420.5" textLength="86" lengthAdjust="spacingAndGlyphs">ThreadPolicy.h</text></g>
<g id="n39" class="node"><rect x="1009.5" y="1456.5" width="119" height="25"/><text x="1014.5" y="1473.5" textLength="109" lengthAdjust="spacingAndGlyphs">PortableServerC.h</text></g>
<g id="n40" class="node"><rect x="1017.5" y="1556" width="102" height="25"/><text x="1022.5" y="1573" textLength="92" lengthAdjust="spacingAndGlyphs">POAManager.h</text></g>
<g id="n41" class="node"><rect x="985.5" y="1605.5" width="166" height="25"/><text x="990.5" y="1622.5" textLength="156" lengthAdjust="spacingAndGlyphs">ServantRetentionPolicyA.h</text></g>
<g id="n42" class="node"><rect x="977.5" y="1656.5" width="182" height="25"/><text x="982.5" y="1673.5" textLength="172" lengthAdjust="spacingAndGlyphs">RequestProcessingPolicyA.h</text></g>
<g id="n43" class="node"><rect x="963.5" y="1756" width="210" height="25"/><text x="968.5" y="1773" textLength="200" lengthAdjust="spacingAndGlyphs">ImplicitActivationStrategyFactory.h</text></g>
<g id="n44" class="node"><rect x="987.5" y="1804" width="162" height="25"/><text x="992.5" y="1821" textLength="152" lengthAdjust="spacingAndGlyphs">ImplicitActivationPolicyA.h</text></g>
<g id="n45" class="node"><rect x="992.5" y="1928.5" width="152" height="25"/><text x="997.5" y="1945.5" textLength="142" lengthAdjust="spacingAndGlyphs">ImplicitActivationPolicy.h</text></g>
<g id="n46" class="node"><rect x="983.5" y="2052.5" width="170" height="25"/><text x="988.5" y="2069.5" textLength="160" lengthAdjust="spacingAndGlyphs">RequestProcessingPolicy.h</text></g>
<g id="n47" class="node"><rect x="953.5" y="2155.5" width="230" height="25"/><text x="958.5" y="2172.5" textLength="220" lengthAdjust="spacingAndGlyphs">RequestProcessingStrategyFactory.h</text></g>
<g id="n48" class="node"><rect x="991" y="2204.5" width="154.5" height="25"/><text x="996" y="2221.5" textLength="144.5" lengthAdjust="spacingAndGlyphs">ServantRetentionPolicy.h</text></g>
<g id="n49" class="node"><rect x="961" y="2509.5" width="214.5" height="25"/><text x="966" y="2526.5" textLength="204.5" lengthAdjust="spacingAndGlyphs">ServantRetentionStrategyFactory.h</text></g>
<g id="n50" class="node"><rect x="981" y="2661.5" width="174" height="25"/><text x="986" y="2678.5" textLength="164" lengthAdjust="spacingAndGlyphs">PortableServer_Functions.h</text></g>
<g id="n51" class="node"><rect x="976" y="2712" width="185" height="25"/><text x="981" y="2729" textLength="175" lengthAdjust="spacingAndGlyphs">PortableServer_WFunctions.h</text></g>
<g id="n52" class="node"><rect x="1016" y="2863.5" width="105.5" height="25"/><text x="1021" y="2880.5" textLength="95.5" lengthAdjust="spacingAndGlyphs">Servant_Base.h</text></g>
<g id="n53" class="node"><rect x="1017.5" y="3116" width="103" height="25"/><text x="1022.5" y="3133" textLength="93" lengthAdjust="spacingAndGlyphs">PS_ForwardA.h</text></g>
<g id="n54" class="node"><rect x="1003" y="3216" width="130.5" height="25"/><text x="1008" y="3233" textLength="120.5" lengthAdjust="spacingAndGlyphs">AdapterActivatorC.h</text></g>
<g id="n55" class="node"><rect x="1015" y="3317" width="106.5" height="25"/><text x="1020" y="3334" textLength="96.5" lengthAdjust="spacingAndGlyphs">Key_Adapters.h</text></g>
<g id="n56" class="node"><rect x="1008" y="3569" width="120.5" height="25"/><text x="1013" y="3586" textLength="110.5" lengthAdjust="spacingAndGlyphs">POA_Policy_Set.h</text></g>
<g id="n57" class="node"><rect x="1003" y="3616.5" width="132.5" height="25"/><text x="1008" y="3633.5" textLength="122.5" lengthAdjust="spacingAndGlyphs">POA_Current_Impl.h</text></g>
<g id="n58" class="node"><rect x="1005.5" y="3730.5" width="127" height="25"/><text x="1010.5" y="3747.5" textLength="117" lengthAdjust="spacingAndGlyphs">ServantActivatorC.h</text></g>
<g id="n59" class="node"><rect x="1004.5" y="3803.5" width="128" height="25"/><text x="1009.5" y="3820.5" textLength="118" lengthAdjust="spacingAndGlyphs">ServantManagerA.h</text></g>
<g id="n60" class="node"><rect x="1009.5" y="3851" width="119" height="25"/><text x="1014.5" y="3868" textLength="109" lengthAdjust="spacingAndGlyphs">ServantLocatorC.h</text></g>
<g id="n61" class="node"><rect x="1005.5" y="3914.5" width="127" height="25"/><text x="1010.5" y="3931.5" textLength="117" lengthAdjust="spacingAndGlyphs">ForwardRequestA.h</text></g>
<g id="n62" class="node"><rect x="960" y="4856" width="216.5" height="25"/><text x="965" y="4873" textLength="206.5" lengthAdjust="spacingAndGlyphs">Operation_Table_Binary_Search.h</text></g>
<g id="n63" class="node"><rect x="959" y="4928.5" width="218" height="25"/><text x="964" y="4945.5" textLength="208" lengthAdjust="spacingAndGlyphs">Operation_Table_Dynamic_Hash.h</text></g>
<g id="n64" class="node"><rect x="961" y="4992" width="215" height="25"/><text x="966" y="5009" textLength="205" lengthAdjust="spacingAndGlyphs">Operation_Table_Linear_Search.h</text></g>
<g id="n65" class="node"><rect x="964.5" y="5040.5" width="208" height="25"/><text x="969.5" y="5057.5" textLength="198" lengthAdjust="spacingAndGlyphs">Operation_Table_Perfect_Hash.h</text></g>
<g id="n66" class="node"><rect x="1265.5" y="857" width="135" height="25"/><text x="1270.5" y="874" textLength="125" lengthAdjust="spacingAndGlyphs">IdUniquenessPolicyC.h</text></g>
<g id="n67" class="node"><rect x="1280.5" y="1006.5" width="107" height="25"/><text x="1285.5" y="1023.5" textLength="97" lengthAdjust="spacingAndGlyphs">LifespanPolicyC.h</text></g>
<g id="n68" class="node"><rect x="1265.5" y="1206.5" width="135" height="25"/><text x="1270.5" y="1223.5" textLength="125" lengthAdjust="spacingAndGlyphs">IdAssignmentPolicyC.h</text></g>
<g id="n69" class="node"><rect x="1284" y="1356.5" width="98.5" height="25"/><text x="1289" y="1373.5" textLength="88.5" lengthAdjust="spacingAndGlyphs">ThreadPolicyC.h</text></g>
<g id="n70" class="node"><rect x="1282" y="1505" width="103" height="25"/><text x="1287" y="1522" textLength="93" lengthAdjust="spacingAndGlyphs">POAManagerC.h</text></g>
<g id="n71" class="node"><rect x="1258.5" y="1756" width="149.5" height="25"/><text x="1263.5" y="1773" textLength="139.5" lengthAdjust="spacingAndGlyphs">ImplicitActivationPolicyC.h</text></g>
<g id="n72" class="node"><rect x="1250" y="1804" width="168" height="25"/><text x="1255" y="1821" textLength="158" lengthAdjust="spacingAndGlyphs">RequestProcessingPolicyC.h</text></g>
<g id="n73" class="node"><rect x="1257.5" y="1852" width="153" height="25"/><text x="1262.5" y="1869" textLength="143" lengthAdjust="spacingAndGlyphs">ServantRetentionPolicyC.h</text></g>
<g id="n74" class="node"><rect x="1286.5" y="3064.5" width="95" height="25"/><text x="1291.5" y="3081.5" textLength="85" lengthAdjust="spacingAndGlyphs">PS_ForwardC.h</text></g>
<g id="n75" class="node"><rect x="1276.5" y="3467.5" width="113" height="25"/><text x="1281.5" y="3484.5" textLength="103" lengthAdjust="spacingAndGlyphs">Servant_Location.h</text></g>
<g id="n76" class="node"><rect x="1258.5" y="3515.5" width="151" height="25"/><text x="1263.5" y="3532.5" textLength="141" lengthAdjust="spacingAndGlyphs">Default_Policy_Validator.h</text></g>
<g id="n77" class="node"><rect x="1275" y="3817" width="118.5" height="25"/><text x="1280" y="3834" textLength="108.5" lengthAdjust="spacingAndGlyphs">ServantManagerC.h</text></g>
<g id="n78" class="node"><rect x="1276" y="3915.5" width="116.5" height="25"/><text x="1281" y="3932.5" textLength="106.5" lengthAdjust="spacingAndGlyphs">ForwardRequestC.h</text></g>
<g id="n79" class="node k"><rect x="1276.5" y="4217" width="113" height="25"/><text x="1281.5" y="4234" textLength="103" lengthAdjust="spacingAndGlyphs">Any_SArg_Traits.h</text></g>
<g id="n80" class="node"><rect x="1272" y="4265" width="124" height="25"/><text x="1277" y="4282" textLength="114" lengthAdjust="spacingAndGlyphs">Basic_SArguments.h</text></g>
<g id="n81" class="node"><rect x="1232.5" y="4313" width="201.5" height="25"/><text x="1237.5" y="4330" textLength="191.5" lengthAdjust="spacingAndGlyphs">Collocated_Object_Proxy_Broker.h</text></g>
<g id="n82" class="node"><rect x="1261" y="4361" width="146" height="25"/><text x="1266" y="4378" textLength="136" lengthAdjust="spacingAndGlyphs">Default_Acceptor_Filter.h</text></g>
<g id="n83" class="node"><rect x="1227" y="4409" width="213" height="25"/><text x="1232" y="4426" textLength="203" lengthAdjust="spacingAndGlyphs">Direct_Collocation_Upcall_Wrapper.h</text></g>
<g id="n84" class="node"><rect x="1243.5" y="4457" width="179" height="25"/><text x="1248.5" y="4474" textLength="169" lengthAdjust="spacingAndGlyphs">IdAssignmentStrategySystem.h</text></g>
<g id="n85" class="node"><rect x="1253" y="4505" width="162.5" height="25"/><text x="1258" y="4522" textLength="152.5" lengthAdjust="spacingAndGlyphs">IdAssignmentStrategyUser.h</text></g>
<g id="n86" class="node"><rect x="1238" y="4553" width="192" height="25"/><text x="1243" y="4570" textLength="182" lengthAdjust="spacingAndGlyphs">ImplicitActivationStrategyExplicit.h</text></g>
<g id="n87" class="node"><rect x="1238" y="4601" width="191" height="25"/><text x="1243" y="4618" textLength="181" lengthAdjust="spacingAndGlyphs">ImplicitActivationStrategyImplicit.h</text></g>
<g id="n88" class="node"><rect x="1269.5" y="4649" width="127.5" height="25"/><text x="1274.5" y="4666" textLength="117.5" lengthAdjust="spacingAndGlyphs">ImR_Client_Adapter.h</text></g>
<g id="n89" class="node"><rect x="1268.5" y="4697" width="131" height="25"/><text x="1273.5" y="4714" textLength="121" lengthAdjust="spacingAndGlyphs">Non_Servant_Upcall.h</text></g>
<g id="n90" class="node"><rect x="1290.5" y="4745" width="85.5" height="25"/><text x="1295.5" y="4762" textLength="75.5" lengthAdjust="spacingAndGlyphs">POA_Guard.h</text></g>
<g id="n91" class="node"><rect x="1257.5" y="4793" width="153" height="25"/><text x="1262.5" y="4810" textLength="143" lengthAdjust="spacingAndGlyphs">Object_Adapter_Factory.h</text></g>
<g id="n92" class="node"><rect x="1279.5" y="4942" width="109" height="25"/><text x="1284.5" y="4959" textLength="99" lengthAdjust="spacingAndGlyphs">Operation_Table.h</text></g>
<g id="n93" class="node"><rect x="1264" y="5092" width="140.5" height="25"/><text x="1269" y="5109" textLength="130.5" lengthAdjust="spacingAndGlyphs">ORT_Adapter_Factory.h</text></g>
<g id="n94" class="node"><rect x="1265" y="5140" width="138.5" height="25"/><text x="1270" y="5157" textLength="128.5" lengthAdjust="spacingAndGlyphs">POA_Current_Factory.h</text></g>
<g id="n95" class="node"><rect x="1276" y="5188" width="116.5" height="25"/><text x="1281" y="5205" textLength="106.5" lengthAdjust="spacingAndGlyphs">Upcall_Command.h</text></g>
<g id="n96" class="node"><rect x="1280.5" y="5236" width="106.5" height="25"/><text x="1285.5" y="5253" textLength="96.5" lengthAdjust="spacingAndGlyphs">Upcall_Wrapper.h</text></g>
<g id="n97" class="node"><rect x="1247.5" y="5284" width="172.5" height="25"/><text x="1252.5" y="5301" textLength="162.5" lengthAdjust="spacingAndGlyphs">Special_Basic_SArguments.h</text></g>
<g id="n98" class="node"><rect x="1260" y="5332" width="147" height="25"/><text x="1265" y="5349" textLength="137" lengthAdjust="spacingAndGlyphs">UB_String_SArguments.h</text></g>
<g id="n99" class="node"><rect x="1251" y="5380" width="165.5" height="25"/><text x="1256" y="5397" textLength="155.5" lengthAdjust="spacingAndGlyphs">ThreadStrategyFactoryImpl.h</text></g>
<g id="n100" class="node"><rect x="1250" y="5428" width="166.5" height="25"/><text x="1255" y="5445" textLength="156.5" lengthAdjust="spacingAndGlyphs">ThreadStrategyORBControl.h</text></g>
<g id="n101" class="node"><rect x="1265" y="5476" width="136.5" height="25"/><text x="1270" y="5493" textLength="126.5" lengthAdjust="spacingAndGlyphs">ThreadStrategySingle.h</text></g>
<g id="n102" class="node"><rect x="1232.5" y="5523.5" width="201" height="25"/><text x="1237.5" y="5540.5" textLength="191" lengthAdjust="spacingAndGlyphs">ThreadStrategySingleFactoryImpl.h</text></g>
<g id="n103" class="node"><rect x="420" y="1605" width="108.5" height="25"/><text x="425" y="1622" textLength="98.5" lengthAdjust="spacingAndGlyphs">PortableServer.h</text></g>
<g id="n104" class="node"><rect x="423" y="2965.5" width="101.5" height="25"/><text x="428" y="2982.5" textLength="91.5" lengthAdjust="spacingAndGlyphs">ORT_Adapter.h</text></g>
<g id="n105" class="node"><rect x="424" y="3343" width="99.5" height="25"/><text x="429" y="3360" textLength="89.5" lengthAdjust="spacingAndGlyphs">POA_Current.h</text></g>
<g id="n106" class="node"><rect x="405" y="4116.5" width="138.5" height="25"/><text x="410" y="4133.5" textLength="128.5" lengthAdjust="spacingAndGlyphs">Servant_Dispatcher.h</text></g>
<g id="n107" class="node"><rect x="177" y="852.5" width="171.5" height="25"/><text x="182" y="869.5" textLength="161.5" lengthAdjust="spacingAndGlyphs">PortableServer_includeC.h</text></g>
<g id="n108" class="node"><rect x="231" y="2763" width="65" height="25"/><text x="236" y="2780" textLength="55" lengthAdjust="spacingAndGlyphs">PolicyS.h</text></g>
<g id="n109" class="node"><rect x="221" y="2915" width="83" height="25"/><text x="226" y="2932" textLength="73" lengthAdjust="spacingAndGlyphs">Root_POA.h</text></g>
<g id="n110" class="node"><rect x="169" y="4142" width="187.5" height="25"/><text x="174" y="4159" textLength="177.5" lengthAdjust="spacingAndGlyphs">Default_Servant_Dispatcher.h</text></g>
<g id="n111" class="node"><rect x="19" y="1481" width="102" height="25"/><text x="24" y="1498" textLength="92" lengthAdjust="spacingAndGlyphs">Regular_POA.h</text></g>
<g id="n112" class="node t"><rect x="1485.5" y="2814" width="136" height="25"/><text x="1490.5" y="2831" textLength="126" lengthAdjust="spacingAndGlyphs">portableserver_export.h</text></g>
</g>
</svg>
